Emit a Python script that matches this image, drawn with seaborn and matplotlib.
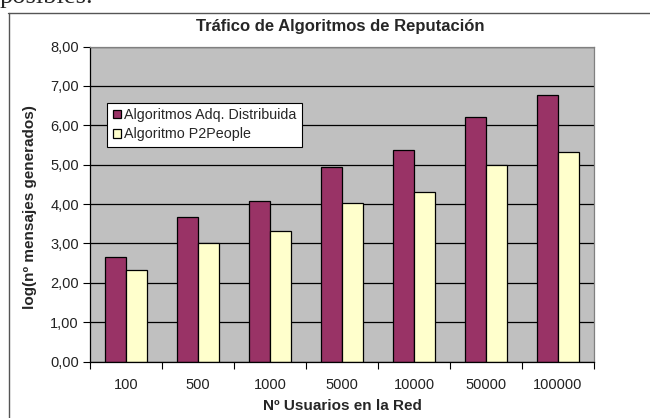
import pandas as pd
import matplotlib.pyplot as plt
import seaborn as sns
from matplotlib.lines import Line2D
from matplotlib.ticker import FuncFormatter, FixedLocator

# Data
usuarios = ["100", "500", "1000", "5000", "10000", "50000", "100000"]
adq_distribuida = [2.65, 3.66, 4.07, 4.93, 5.38, 6.22, 6.78]
p2people = [2.33, 3.02, 3.32, 4.02, 4.31, 5.00, 5.31]
series_names = ["Algoritmos Adq. Distribuida", "Algoritmo P2People"]
colors = ["#993366", "#FFFFCC"]

df = pd.DataFrame({
    "Usuarios": usuarios * 2,
    "Valor": adq_distribuida + p2people,
    "Serie": [series_names[0]] * len(usuarios) + [series_names[1]] * len(usuarios),
})

sns.set_style("white")
plt.rcParams["font.family"] = ["Liberation Sans", "DejaVu Sans"]

fig = plt.figure(figsize=(6.5, 4.18), dpi=100)
W, H = 650, 418
# plot area in pixels: x 90..594, y 46.5..361.5
ax = fig.add_axes([90 / W, (H - 361.5) / H, 504 / W, 315 / H])

sns.barplot(data=df, x="Usuarios", y="Valor", hue="Serie", palette=colors,
            width=0.573, edgecolor="black", linewidth=0.9, saturation=1, ax=ax)

ax.set_facecolor("#C0C0C0")
ax.set_axisbelow(True)
ax.set_ylim(0, 8)
ax.set_xlim(-0.5, len(usuarios) - 0.5)
ax.set_yticks(range(0, 9))
ax.yaxis.set_major_formatter(FuncFormatter(lambda v, p: f"{v:.2f}".replace(".", ",")))
ax.grid(axis="y", color="black", linewidth=0.9)
ax.grid(axis="x", visible=False)

ax.tick_params(axis="y", which="major", direction="out", length=5, width=0.8,
               color="black", labelsize=10.5, pad=3, left=True)
ax.tick_params(axis="x", which="major", length=0, labelsize=10.5, pad=12)
ax.xaxis.set_minor_locator(FixedLocator([i - 0.5 for i in range(len(usuarios) + 1)]))
ax.tick_params(axis="x", which="minor", direction="out", length=5, width=0.8,
               color="black", bottom=True)
for lab in ax.get_xticklabels() + ax.get_yticklabels():
    lab.set_color("#222222")

for side in ["top", "right"]:
    ax.spines[side].set_color("#808080")
    ax.spines[side].set_linewidth(0.9)
for side in ["left", "bottom"]:
    ax.spines[side].set_color("black")
    ax.spines[side].set_linewidth(0.9)

ax.set_xlabel("Nº Usuarios en la Red", fontsize=11, fontweight="bold")
ax.set_ylabel("log(nº mensajes generados)", fontsize=11, fontweight="bold")
ax.xaxis.label.set_verticalalignment("center")
ax.xaxis.set_label_coords(0.5, -(406.5 - 361.5) / 315)
ax.yaxis.label.set_verticalalignment("center")
ax.yaxis.set_label_coords(-(90 - 30) / 504, 0.489)

leg = ax.legend(loc="upper left", bbox_to_anchor=(0.034, 0.822), fontsize=10.3,
                frameon=True, fancybox=False, shadow=False, handlelength=0.58,
                handleheight=0.58, handletextpad=0.25, borderpad=0.38,
                labelspacing=0.38, borderaxespad=0)
leg.get_frame().set_edgecolor("black")
leg.get_frame().set_linewidth(0.8)
leg.get_frame().set_facecolor("white")
leg.get_frame().set_alpha(1)

fig.text(340 / W, 1 - 27 / H, "Tráfico de Algoritmos de Reputación",
         ha="center", va="center", fontsize=12, fontweight="bold")

# chart frame (top and left edges visible)
fig.add_artist(Line2D([8 / W, 1], [1 - 12.5 / H] * 2, color="#555555", lw=1))
fig.add_artist(Line2D([8.5 / W] * 2, [0, 1 - 12.5 / H], color="#555555", lw=1))

# cut-off line of document text above the chart
fig.text(0, 1 - 3.5 / H, "posibles.", family=["Liberation Serif", "DejaVu Serif"],
         fontsize=19, ha="left", va="baseline")

fig.savefig("out.png", dpi=100)
